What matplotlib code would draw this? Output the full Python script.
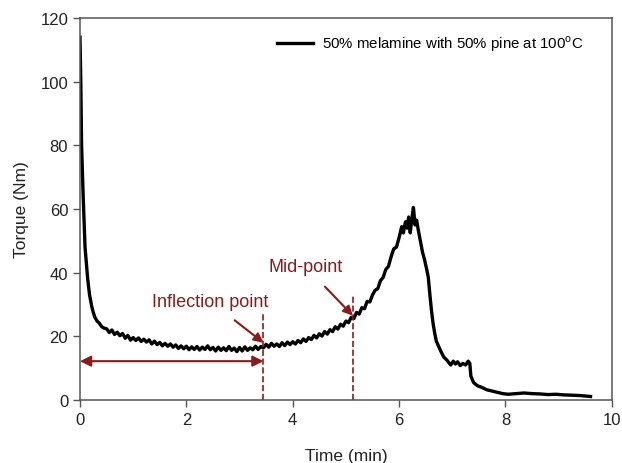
import matplotlib
matplotlib.use("Agg")
import matplotlib.pyplot as plt

plt.rcParams["font.family"] = ["Liberation Sans", "DejaVu Sans"]
plt.rcParams["mathtext.fontset"] = "custom"
plt.rcParams["mathtext.rm"] = "Liberation Sans"

# torque curve
time = [0.00, 0.015, 0.03, 0.06, 0.095, 0.145, 0.18, 0.22, 0.25, 0.28, 0.32, 0.36, 0.41, 0.45,
        0.50, 0.55, 0.60, 0.65, 0.70, 0.75, 0.80, 0.85, 0.90, 0.95,
        1.00, 1.05, 1.10, 1.15, 1.20, 1.25, 1.30, 1.35, 1.40, 1.45,
        1.50, 1.55, 1.60, 1.65, 1.70, 1.75, 1.80, 1.85, 1.90, 1.95,
        2.00, 2.05, 2.10, 2.15, 2.20, 2.25, 2.30, 2.35, 2.40, 2.45,
        2.50, 2.55, 2.60, 2.65, 2.70, 2.75, 2.80, 2.85, 2.90, 2.95,
        3.00, 3.05, 3.10, 3.15, 3.20, 3.25, 3.30, 3.35, 3.40, 3.45,
        3.50, 3.55, 3.60, 3.65, 3.70, 3.75, 3.80, 3.85, 3.90, 3.95,
        4.00, 4.05, 4.10, 4.15, 4.20, 4.25, 4.30, 4.35, 4.40, 4.45,
        4.50, 4.55, 4.60, 4.65, 4.70, 4.75, 4.80, 4.85, 4.90, 4.95,
        5.00, 5.05, 5.10, 5.15, 5.20, 5.25, 5.30, 5.35, 5.40, 5.45,
        5.50, 5.55, 5.60, 5.65, 5.70, 5.75, 5.80, 5.85, 5.90, 5.95,
        6.00, 6.05, 6.08, 6.12, 6.15, 6.18, 6.21, 6.24, 6.27, 6.30,
        6.33, 6.36, 6.40, 6.44, 6.48, 6.52, 6.55, 6.58, 6.61, 6.64,
        6.67, 6.70, 6.74, 6.78, 6.84, 6.90, 6.97, 7.02, 7.06, 7.10,
        7.15, 7.20, 7.25, 7.30, 7.33, 7.35, 7.40, 7.47, 7.55, 7.65,
        7.75, 7.85, 7.95, 8.05, 8.20, 8.35, 8.50, 8.65, 8.80, 8.95,
        9.10, 9.25, 9.40, 9.55, 9.60]
torque = [114.0, 100.0, 80.0, 64.0, 48.0, 38.0, 33.0, 29.5, 27.5, 26.0, 24.8, 24.2, 23.0, 22.6,
          22.4, 21.2, 22.0, 20.6, 21.3, 20.2, 20.9, 19.4, 20.3, 18.8,
          19.6, 18.7, 19.5, 18.4, 19.1, 18.2, 18.9, 17.6, 18.5, 17.4,
          18.1, 17.0, 17.8, 16.9, 17.6, 16.6, 17.3, 16.2, 17.0, 16.1,
          16.9, 15.8, 16.7, 15.9, 16.8, 15.7, 16.6, 15.9, 17.0, 15.8,
          16.5, 15.4, 16.6, 15.6, 16.4, 15.5, 16.8, 15.6, 16.3, 15.2,
          16.5, 15.4, 16.7, 15.6, 16.4, 15.8, 16.9, 15.9, 16.8, 16.4,
          17.5, 16.6, 17.8, 16.9, 17.6, 16.8, 18.0, 17.1, 18.2, 17.4,
          18.3, 17.6, 18.7, 18.0, 19.2, 18.4, 19.6, 19.0, 20.3, 19.5,
          20.8, 20.1, 21.5, 20.7, 22.1, 21.5, 23.0, 22.3, 23.8, 23.2,
          24.8, 24.3, 26.0, 25.6, 27.5, 27.0, 29.0, 28.7, 31.0, 30.8,
          33.0, 34.5, 35.0, 37.5, 38.5, 41.0, 42.0, 45.0, 47.5, 48.0,
          51.0, 54.5, 52.5, 56.0, 54.0, 57.5, 52.5, 57.0, 60.5, 55.0,
          56.5, 53.5, 50.0, 46.5, 44.0, 41.0, 38.5, 33.0, 28.0, 24.0,
          21.0, 18.5, 17.0, 15.5, 13.5, 12.5, 11.0, 12.2, 11.3, 12.0,
          10.8, 11.5, 11.0, 12.2, 11.5, 7.5, 5.5, 4.5, 4.0, 3.2,
          2.8, 2.4, 2.0, 1.8, 2.0, 2.2, 2.0, 1.9, 1.7, 1.8,
          1.6, 1.5, 1.4, 1.2, 1.1]

inflection_t = 3.45
midpoint_t = 5.13
red = "#8b1a1a"

fig = plt.figure(figsize=(6.22, 4.64), dpi=100)
ax = fig.add_axes([0.1286, 0.1358, 0.855, 0.823])

ax.plot(time, torque, color="black", lw=2.4,
        label="50% melamine with 50% pine at 100$^{\\mathrm{o}}$C")

ax.plot([inflection_t, inflection_t], [0, 27], ls="--", color=red, lw=1.2)
ax.plot([midpoint_t, midpoint_t], [0, 33], ls="--", color=red, lw=1.2)

ax.annotate("", xy=(0, 12.2), xytext=(inflection_t, 12.2),
            arrowprops=dict(arrowstyle="<|-|>", color=red, lw=1.5,
                            mutation_scale=16, shrinkA=0, shrinkB=0))
ax.annotate("Inflection point", xy=(inflection_t, 18.0), xytext=(2.45, 31),
            color=red, fontsize=13, ha="center", va="center",
            arrowprops=dict(arrowstyle="-|>", color=red, lw=1.5,
                            mutation_scale=14, shrinkA=9, shrinkB=0))
ax.annotate("Mid-point", xy=(midpoint_t, 26.5), xytext=(4.24, 42),
            color=red, fontsize=13, ha="center", va="center",
            arrowprops=dict(arrowstyle="-|>", color=red, lw=1.5,
                            mutation_scale=14, shrinkA=9, shrinkB=0))

ax.set_xlim(0, 10)
ax.set_ylim(0, 120)
ax.set_xticks(range(0, 11, 2))
ax.set_yticks(range(0, 121, 20))
ax.tick_params(direction="out", length=5, width=1, colors="#555555",
               labelcolor="#222222", labelsize=12)
for s in ax.spines.values():
    s.set_color("#555555")
    s.set_linewidth(1.1)

ax.set_xlabel("Time (min)", fontsize=12.5, color="#222222", labelpad=15)
ax.set_ylabel("Torque (Nm)", fontsize=12.5, color="#222222", labelpad=8)

ax.legend(loc="upper right", bbox_to_anchor=(0.957, 0.975), borderaxespad=0,
          frameon=False, fontsize=10.8, handlelength=2.4, handletextpad=0.55)

fig.savefig("out.png", dpi=100)
